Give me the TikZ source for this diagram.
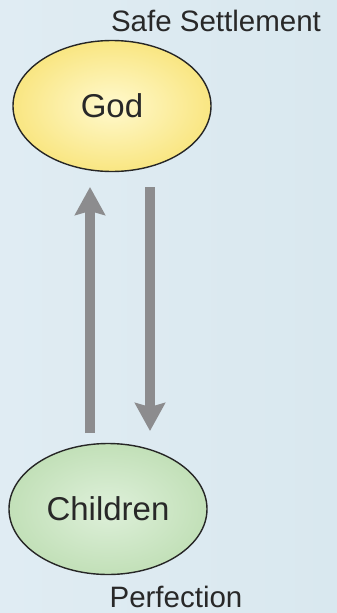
\documentclass[tikz,border=0pt]{standalone}
\usepackage{fontspec}
\setmainfont{Liberation Sans}
\usetikzlibrary{shapes.geometric,arrows.meta}
\definecolor{bgA}{RGB}{224,236,243}
\definecolor{bgB}{RGB}{217,232,239}
\definecolor{txt}{RGB}{40,40,40}
\definecolor{arrgray}{RGB}{140,140,142}
\definecolor{yelIn}{RGB}{255,249,205}
\definecolor{yelOut}{RGB}{249,230,130}
\definecolor{grnIn}{RGB}{222,240,218}
\definecolor{grnOut}{RGB}{194,224,184}
\tikzset{
  oval/.style={ellipse, draw=black!85, line width=1.4pt, minimum width=198pt, minimum height=131pt, inner sep=0pt, text=txt, font=\fontsize{33}{38}\selectfont},
  caption/.style={text=txt, font=\fontsize{29.5}{34}\selectfont, inner sep=0pt},
  flow/.style={draw=arrgray, line width=10pt, -{Stealth[width=30pt,length=28pt,inset=4pt]}},
}
\begin{document}
\begin{tikzpicture}[x=1pt,y=-1pt]
\useasboundingbox (0,0) rectangle (337,613);
\shade[left color=bgA, right color=bgB] (0,0) rectangle (337,613);
\node[caption] (safe) at (216,21) {Safe Settlement};
\node[oval, inner color=yelIn, outer color=yelOut] (god) at (112,106) {God};
\node[oval, inner color=grnIn, outer color=grnOut] (children) at (108,509) {Children};
\node[caption] (perf) at (176,597) {Perfection};
\coordinate (upS) at (90,433);
\coordinate (upE) at (90,187);
\coordinate (dnS) at (150,187);
\coordinate (dnE) at (150,431);
\draw[flow] (upS) -- (upE);
\draw[flow] (dnS) -- (dnE);
\end{tikzpicture}
\end{document}
